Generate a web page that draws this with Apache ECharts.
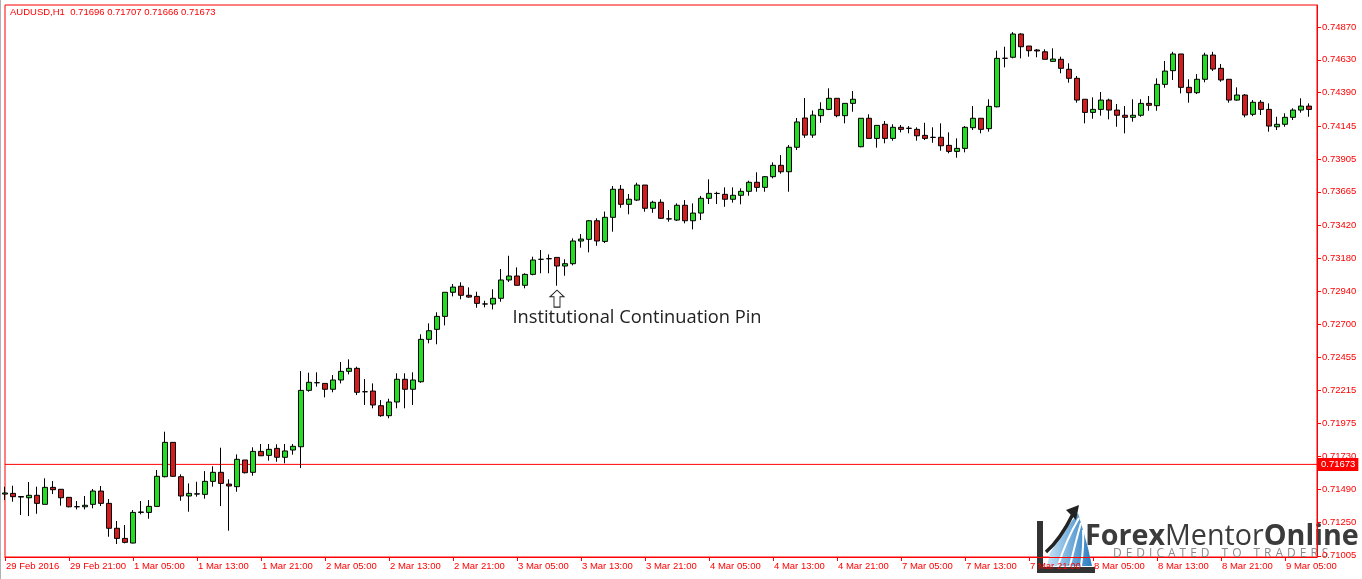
<!DOCTYPE html>
<html>
<head>
<meta charset="utf-8">
<script src="https://cdn.jsdelivr.net/npm/echarts@6/dist/echarts.min.js"></script>
<style>
html,body{margin:0;padding:0;background:#fff;}
#chart{width:1362px;height:579px;}
</style>
</head>
<body>
<div id="chart"></div>
<script>
// ---- data ----
const symbolName = 'AUDUSD,H1';
const lastBarOHLC = [0.71696, 0.71707, 0.71666, 0.71673];
const currentPrice = 0.71673;
const yTicks = [0.71005, 0.71250, 0.71490, 0.71730, 0.71975, 0.72215, 0.72455, 0.72700, 0.72940,
  0.73180, 0.73420, 0.73665, 0.73905, 0.74145, 0.74390, 0.74630, 0.74870];
const yMin = 0.70996, yMax = 0.75031;
const annotation = { index: 69, price: 0.72885, text: 'Institutional Continuation Pin' };

const opens = [
0.71456,0.71461,0.71438,0.71429,0.71447,0.71381,0.71505,0.71491,0.71432,0.71363,
0.71363,0.71381,0.71478,0.71388,0.71206,0.71132,0.71098,0.71322,0.71322,0.71366,
0.71583,0.71834,0.71583,0.71442,0.71456,0.71454,0.71549,0.71615,0.71529,0.71510,
0.71705,0.71615,0.71768,0.71739,0.71790,0.71725,0.71778,0.71802,0.72214,0.72270,
0.72265,0.72222,0.72290,0.72353,0.72375,0.72204,0.72209,0.72102,0.72029,0.72129,
0.72295,0.72222,0.72277,0.72587,0.72660,0.72755,0.72931,0.72975,0.72909,0.72901,
0.72845,0.72845,0.72887,0.73021,0.73050,0.72982,0.73062,0.73172,0.73176,0.73186,
0.73123,0.73140,0.73306,0.73318,0.73454,0.73303,0.73479,0.73684,0.73574,0.73605,
0.73715,0.73545,0.73589,0.73467,0.73459,0.73567,0.73454,0.73510,0.73618,0.73654,
0.73647,0.73611,0.73640,0.73669,0.73735,0.73698,0.73776,0.73859,0.73812,0.73991,
0.74205,0.74080,0.74222,0.74268,0.74349,0.74222,0.74312,0.73995,0.74203,0.74056,
0.74159,0.74056,0.74137,0.74130,0.74122,0.74078,0.74064,0.74064,0.74005,0.73961,
0.73983,0.74134,0.74203,0.74127,0.74287,0.74641,0.74649,0.74819,0.74731,0.74702,
0.74689,0.74619,0.74634,0.74561,0.74495,0.74342,0.74246,0.74268,0.74336,0.74263,
0.74225,0.74210,0.74225,0.74312,0.74295,0.74451,0.74551,0.74673,0.74429,0.74390,
0.74488,0.74665,0.74568,0.74488,0.74336,0.74373,0.74232,0.74320,0.74268,0.74141,
0.74159,0.74210,0.74263,0.74292];
const highs = [
0.71510,0.71517,0.71442,0.71544,0.71510,0.71571,0.71551,0.71491,0.71432,0.71405,
0.71442,0.71493,0.71515,0.71420,0.71259,0.71230,0.71339,0.71405,0.71412,0.71632,
0.71912,0.71834,0.71600,0.71534,0.71546,0.71624,0.71659,0.71795,0.71564,0.71746,
0.71705,0.71798,0.71822,0.71822,0.71820,0.71822,0.71822,0.72355,0.72343,0.72346,
0.72265,0.72326,0.72421,0.72441,0.72387,0.72297,0.72265,0.72143,0.72153,0.72339,
0.72339,0.72346,0.72624,0.72704,0.72785,0.72931,0.72991,0.73004,0.72967,0.72935,
0.72869,0.72953,0.73101,0.73198,0.73113,0.73070,0.73191,0.73240,0.73208,0.73186,
0.73172,0.73325,0.73357,0.73459,0.73472,0.73521,0.73708,0.73715,0.73649,0.73732,
0.73715,0.73600,0.73611,0.73532,0.73581,0.73605,0.73581,0.73635,0.73757,0.73666,
0.73698,0.73698,0.73691,0.73747,0.73808,0.73781,0.73881,0.73934,0.74007,0.74205,
0.74351,0.74260,0.74320,0.74422,0.74349,0.74312,0.74402,0.74203,0.74232,0.74151,
0.74183,0.74159,0.74154,0.74146,0.74137,0.74170,0.74137,0.74166,0.74100,0.74056,
0.74146,0.74292,0.74203,0.74342,0.74697,0.74726,0.74833,0.74824,0.74731,0.74709,
0.74707,0.74714,0.74653,0.74605,0.74512,0.74342,0.74356,0.74395,0.74346,0.74307,
0.74292,0.74342,0.74342,0.74366,0.74495,0.74622,0.74689,0.74673,0.74488,0.74526,
0.74682,0.74689,0.74600,0.74488,0.74429,0.74380,0.74336,0.74336,0.74312,0.74214,
0.74239,0.74276,0.74349,0.74312];
const lows = [
0.71412,0.71400,0.71303,0.71295,0.71312,0.71381,0.71456,0.71371,0.71359,0.71344,
0.71344,0.71352,0.71368,0.71144,0.71091,0.71096,0.71096,0.71308,0.71276,0.71366,
0.71578,0.71583,0.71407,0.71327,0.71437,0.71422,0.71510,0.71368,0.71188,0.71473,
0.71607,0.71590,0.71734,0.71700,0.71692,0.71681,0.71744,0.71646,0.72204,0.72241,
0.72163,0.72200,0.72265,0.72331,0.72180,0.72107,0.72083,0.72021,0.72010,0.72083,
0.72083,0.72107,0.72270,0.72558,0.72551,0.72689,0.72901,0.72880,0.72891,0.72818,
0.72821,0.72806,0.72862,0.73006,0.72982,0.72960,0.73055,0.73070,0.73070,0.72979,
0.73052,0.73128,0.73257,0.73223,0.73271,0.73291,0.73374,0.73549,0.73501,0.73598,
0.73520,0.73512,0.73467,0.73447,0.73452,0.73435,0.73391,0.73459,0.73576,0.73576,
0.73556,0.73586,0.73574,0.73637,0.73666,0.73666,0.73764,0.73798,0.73666,0.73971,
0.74060,0.74060,0.74170,0.74263,0.74210,0.74166,0.74251,0.73991,0.74056,0.73988,
0.74020,0.74039,0.74100,0.74093,0.74039,0.74044,0.74024,0.73966,0.73947,0.73915,
0.73954,0.74117,0.74093,0.74105,0.74283,0.74575,0.74641,0.74641,0.74653,0.74649,
0.74634,0.74619,0.74532,0.74463,0.74317,0.74166,0.74200,0.74222,0.74195,0.74141,
0.74093,0.74178,0.74214,0.74258,0.74258,0.74426,0.74483,0.74385,0.74317,0.74380,
0.74466,0.74548,0.74470,0.74317,0.74331,0.74210,0.74219,0.74227,0.74105,0.74117,
0.74141,0.74190,0.74244,0.74214];
const closes = [
0.71464,0.71437,0.71434,0.71447,0.71388,0.71505,0.71488,0.71429,0.71363,0.71364,
0.71374,0.71478,0.71388,0.71206,0.71132,0.71103,0.71322,0.71325,0.71366,0.71586,
0.71834,0.71586,0.71442,0.71461,0.71458,0.71549,0.71615,0.71534,0.71515,0.71710,
0.71612,0.71768,0.71736,0.71783,0.71725,0.71771,0.71805,0.72214,0.72273,0.72270,
0.72222,0.72290,0.72353,0.72375,0.72200,0.72204,0.72107,0.72029,0.72129,0.72295,
0.72222,0.72290,0.72587,0.72650,0.72755,0.72931,0.72969,0.72909,0.72896,0.72850,
0.72846,0.72887,0.73021,0.73050,0.72982,0.73062,0.73167,0.73172,0.73177,0.73123,
0.73140,0.73306,0.73320,0.73454,0.73306,0.73479,0.73684,0.73574,0.73611,0.73715,
0.73545,0.73589,0.73472,0.73468,0.73567,0.73454,0.73510,0.73618,0.73654,0.73653,
0.73611,0.73640,0.73669,0.73735,0.73698,0.73776,0.73859,0.73812,0.73991,0.74176,
0.74080,0.74226,0.74268,0.74349,0.74222,0.74312,0.74342,0.74203,0.74056,0.74151,
0.74056,0.74137,0.74122,0.74129,0.74075,0.74056,0.74063,0.74002,0.73961,0.73983,
0.74137,0.74203,0.74122,0.74290,0.74641,0.74642,0.74819,0.74726,0.74697,0.74695,
0.74634,0.74636,0.74568,0.74495,0.74336,0.74246,0.74268,0.74336,0.74263,0.74225,
0.74210,0.74225,0.74312,0.74298,0.74451,0.74548,0.74673,0.74429,0.74390,0.74488,
0.74665,0.74563,0.74483,0.74336,0.74373,0.74227,0.74320,0.74268,0.74146,0.74159,
0.74210,0.74263,0.74292,0.74268];

// hourly bar times (weekends skipped), one extra empty slot on the right
const firstBarUTC = Date.UTC(2016, 1, 29, 13);
const slotCount = opens.length + 1;
const monthNames = ['Jan','Feb','Mar','Apr','May','Jun','Jul','Aug','Sep','Oct','Nov','Dec'];
const categories = [];
for (let t = firstBarUTC; categories.length < slotCount; t += 3600000) {
  const d = new Date(t);
  const wd = d.getUTCDay();
  if (wd === 0 || wd === 6) continue;
  categories.push(d.toISOString());
}
function fmtCat(iso, idx) {
  const d = new Date(iso);
  const day = d.getUTCDate() + ' ' + monthNames[d.getUTCMonth()];
  if (idx === 0) return day + ' ' + d.getUTCFullYear();
  return day + ' ' + String(d.getUTCHours()).padStart(2, '0') + ':00';
}

const candleData = opens.map((o, i) => [o, closes[i], lows[i], highs[i]]);
const priceLineData = [[categories[0], currentPrice], [categories[slotCount - 1], currentPrice]];

const RED = '#ff0000';
const AXFONT = 'Liberation Sans, Arial, sans-serif';
const SP = '\u2004';
const tagline = ['DEDICATED', 'TO', 'TRADERS'].map(w => w.split('').join(SP)).join(SP + SP + SP);

const chart = echarts.init(document.getElementById('chart'), null, { renderer: 'canvas' });
chart.setOption({
  animation: false,
  backgroundColor: '#ffffff',
  title: {
    text: symbolName + '  ' + lastBarOHLC.map(v => v.toFixed(5)).join(' '),
    left: 5, top: 2,
    textStyle: { color: RED, fontSize: 9.5, fontWeight: 'normal', fontFamily: AXFONT }
  },
  grid: { left: 5, right: 45, top: 5, bottom: 22, show: true, borderColor: RED, borderWidth: 1, backgroundColor: '#fff' },
  xAxis: {
    type: 'category', data: categories, boundaryGap: false,
    axisLine: { show: true, lineStyle: { color: RED, width: 1 } },
    axisTick: { show: true, interval: 7, length: 4, lineStyle: { color: RED } },
    axisLabel: { interval: 7, color: RED, fontSize: 9.5, fontFamily: AXFONT, align: 'left', margin: 4, padding: [0, 0, 0, 1],
      formatter: (v, idx) => fmtCat(v, idx) },
    splitLine: { show: false }
  },
  yAxis: {
    type: 'value', position: 'right', min: yMin, max: yMax, scale: true,
    axisLine: { show: true, lineStyle: { color: RED } },
    axisTick: { show: true, length: 4, customValues: yTicks, lineStyle: { color: RED } },
    axisLabel: { customValues: yTicks, color: RED, fontSize: 9.5, fontFamily: AXFONT, margin: 5,
      formatter: v => v.toFixed(5) },
    splitLine: { show: false }
  },
  series: [{
    type: 'line',
    data: priceLineData,
    symbol: 'none',
    silent: true,
    z: 1,
    lineStyle: { color: RED, width: 1 },
    endLabel: { show: true, distance: 1, formatter: () => currentPrice.toFixed(5),
      color: '#fff', backgroundColor: RED, fontSize: 9.5, fontFamily: AXFONT, padding: [2, 3, 1, 3] }
  }, {
    type: 'candlestick',
    data: candleData,
    barWidth: 5,
    z: 3,
    itemStyle: { color: '#22dd22', color0: '#d41c1c', borderColor: '#000', borderColor0: '#000', borderColorDoji: '#000', borderWidth: 1 },
    markPoint: {
      silent: true, animation: false,
      data: [{
        coord: [categories[annotation.index], annotation.price],
        symbol: 'path://M7,0 L14,7 L10,7 L10,18 L4,18 L4,7 L0,7 Z',
        symbolSize: [14, 17],
        itemStyle: { color: '#fff', borderColor: '#222', borderWidth: 1 },
        label: { show: true, position: 'bottom', distance: 1, offset: [80, 0], formatter: annotation.text,
          color: '#222', fontSize: 18.3, fontFamily: 'Open Sans, Noto Sans, sans-serif' }
      }]
    }
  }],
  graphic: [{
    type: 'group', z: 100,
    children: [
      { type: 'polygon', shape: { points: [[1047,566],[1050,553],[1058,540],[1068,526],[1078,513],[1083,530],[1088,548],[1092,566]] },
        style: { fill: new echarts.graphic.LinearGradient(0, 0, 1, 0, [{ offset: 0, color: '#c6e4f7' }, { offset: 1, color: '#2a7cc2' }]) } },
      { type: 'bezierCurve', shape: { x1: 1058, y1: 566, cpx1: 1066, cpy1: 540, x2: 1079, y2: 518 }, style: { stroke: '#fff', lineWidth: 2, fill: null } },
      { type: 'bezierCurve', shape: { x1: 1070, y1: 566, cpx1: 1076, cpy1: 540, x2: 1081, y2: 523 }, style: { stroke: '#fff', lineWidth: 2, fill: null } },
      { type: 'bezierCurve', shape: { x1: 1081, y1: 566, cpx1: 1084, cpy1: 545, x2: 1083, y2: 530 }, style: { stroke: '#fff', lineWidth: 2, fill: null } },
      { type: 'bezierCurve', shape: { x1: 1046, y1: 552, cpx1: 1060, cpy1: 540, x2: 1073, y2: 514 }, style: { stroke: '#222', lineWidth: 3.5, fill: null } },
      { type: 'polygon', shape: { points: [[1079,505],[1066,510],[1076,520]] }, style: { fill: '#222' } },
      { type: 'rect', shape: { x: 1037, y: 521, width: 6, height: 52 }, style: { fill: '#333' } },
      { type: 'rect', shape: { x: 1037, y: 567, width: 58, height: 6 }, style: { fill: '#333' } },
      { type: 'text', x: 1085, y: 537,
        style: { text: '{b|Forex}{n|Mentor}{b|Online}', verticalAlign: 'middle', align: 'left',
          rich: {
            b: { fontSize: 28.7, fontWeight: 'bold', fill: '#3b3b3b', fontFamily: 'Open Sans, sans-serif' },
            n: { fontSize: 28.7, fontWeight: 'normal', fill: '#3b3b3b', fontFamily: 'Open Sans, sans-serif' }
          } } },
      { type: 'text', x: 1113, y: 554,
        style: { text: tagline, verticalAlign: 'middle', align: 'left',
          fontSize: 12, fill: '#8a8a8a', fontFamily: 'Open Sans, sans-serif' } },
      { type: 'rect', shape: { x: 0, y: 0, width: 1, height: 579 }, style: { fill: '#b0b0b0' } }
    ]
  }]
});
</script>
</body>
</html>
